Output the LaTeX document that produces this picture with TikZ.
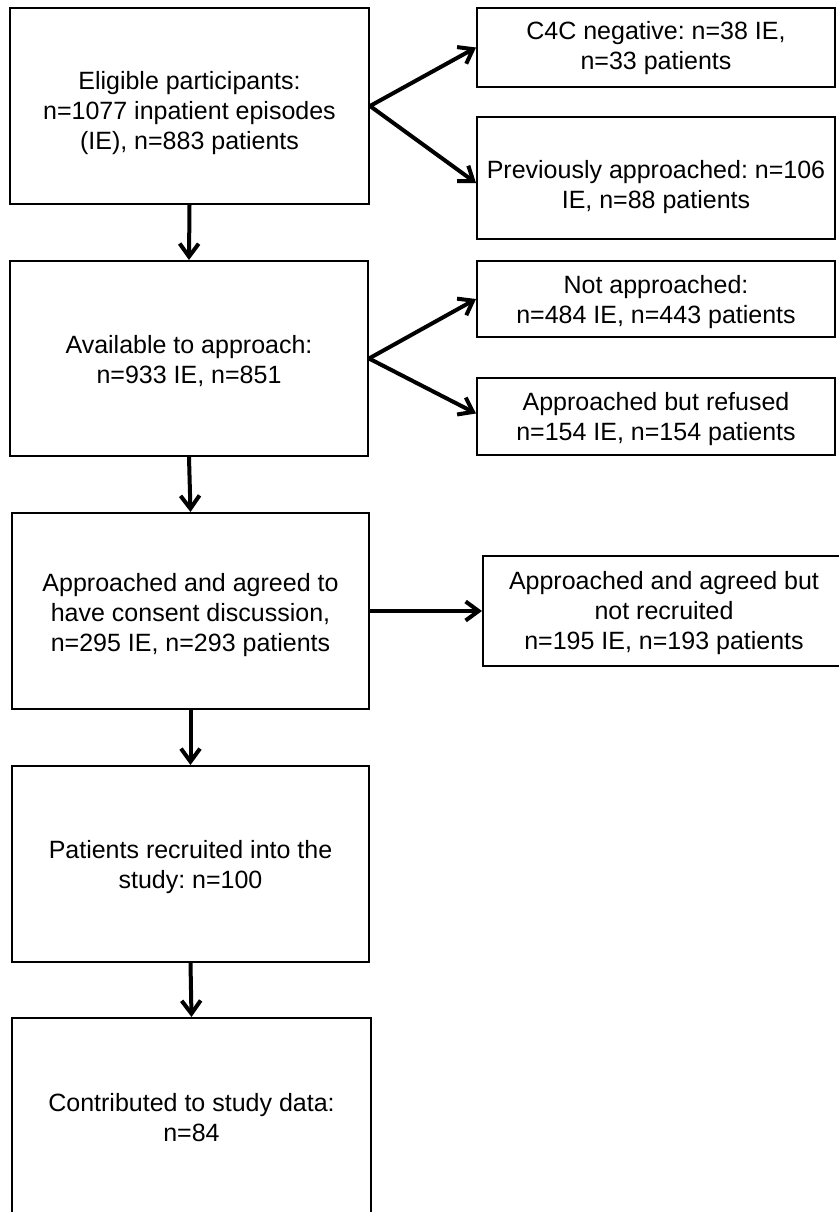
\documentclass[tikz,border=0pt]{standalone}
\usepackage{fontspec}
\setmainfont{Liberation Sans}
\usetikzlibrary{arrows.meta}
\newcommand\dn[1]{\vrule width 0pt height \dimexpr\fontcharht\font`\(+#1*2\relax}
\begin{document}
\frenchspacing
\begin{tikzpicture}[x=1pt,y=-1pt,
 box/.style={draw, line width=2pt, align=center, inner sep=0pt, font=\fontsize{25}{30}\selectfont},
 arr/.style={line width=4pt, -{Straight Barb[length=13pt,width=19pt,line width=4pt]}}]
\useasboundingbox (0,0) rectangle (838,1212);
\node[box, minimum width=359pt, minimum height=196pt] (b1) at (189.5,106) {\dn{7pt}Eligible participants:\\n=1077 inpatient episodes\\(IE), n=883 patients};
\node[box, minimum width=358pt, minimum height=195pt] (b2) at (189,358.5) {\dn{3pt}Available to approach:\\n=933 IE, n=851};
\node[box, minimum width=357pt, minimum height=196pt] (b3) at (190.5,611) {\dn{4pt}Approached and agreed to\\have consent discussion,\\n=295 IE, n=293 patients};
\node[box, minimum width=357pt, minimum height=196pt] (b4) at (190.5,864) {\dn{3pt}Patients recruited into the\\study: n=100};
\node[box, minimum width=359pt, minimum height=200pt] (b5) at (191.5,1118) {Contributed to study data:\\n=84};
\node[box, minimum width=358pt, minimum height=79pt] (r1) at (656,47.5) {\dn{1pt}C4C negative: n=38 IE,\\n=33 patients};
\node[box, minimum width=358pt, minimum height=122pt] (r2) at (656,178) {\dn{9pt}Previously approached: n=106\\IE, n=88 patients};
\node[box, minimum width=358pt, minimum height=76pt] (r3) at (656,299) {\dn{3.5pt}Not approached:\\n=484 IE, n=443 patients};
\node[box, minimum width=358pt, minimum height=77pt] (r4) at (656,416.5) {\dn{3pt}Approached but refused\\n=154 IE, n=154 patients};
\node[box, minimum width=362pt, minimum height=110pt] (r5) at (664,611) {\dn{2pt}Approached and agreed but\\not recruited\\n=195 IE, n=193 patients};
\draw[arr] (b1.south) -- (b2.north);
\draw[arr] (b2.south) -- (b3.north);
\draw[arr] (b3.south) -- (b4.north);
\draw[arr] (b4.south) -- (b5.north);
\draw[arr] (b1.east) -- (r1.west);
\draw[arr] (b1.east) -- ([yshift=-5pt]r2.west);
\draw[arr] (b2.east) -- (r3.west);
\draw[arr] (b2.east) -- ([yshift=3pt]r4.west);
\draw[arr] (b3.east) -- (r5.west);
\end{tikzpicture}
\end{document}
